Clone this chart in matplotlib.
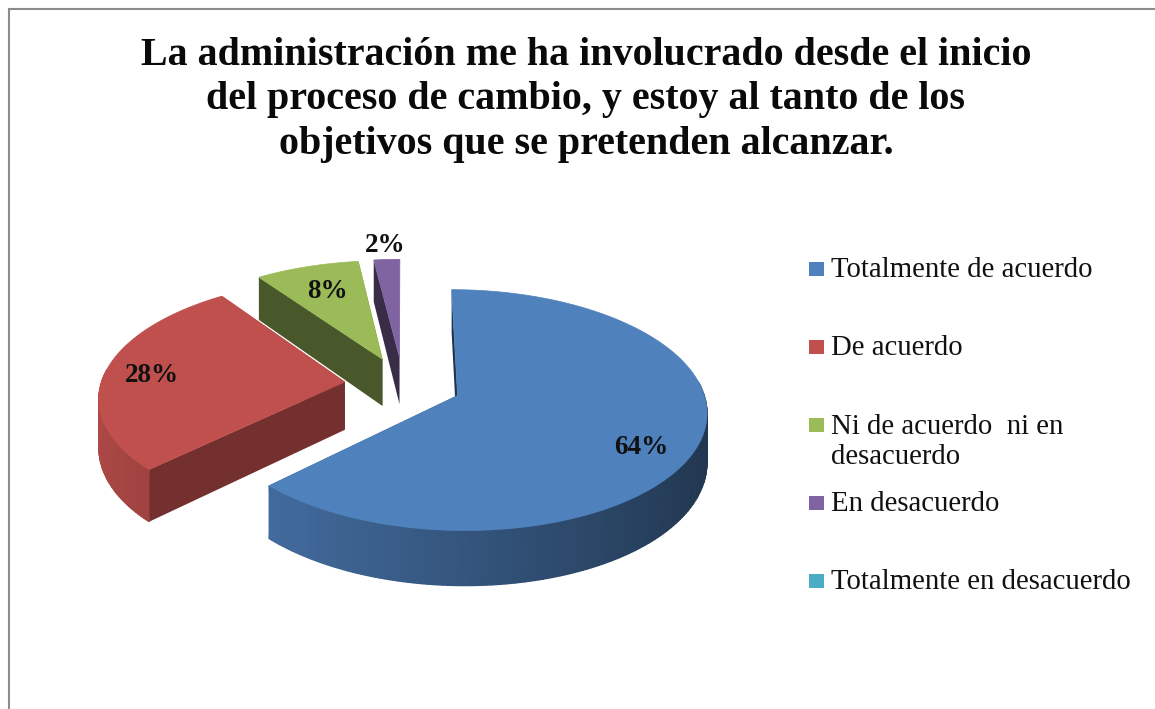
import numpy as np
import matplotlib
matplotlib.use("Agg")
import matplotlib.pyplot as plt
from matplotlib.colors import LinearSegmentedColormap
from matplotlib.patches import Polygon, Rectangle

# ---- data ----
title = ("La administración me ha involucrado desde el inicio\n"
         "del proceso de cambio, y estoy al tanto de los\n"
         "objetivos que se pretenden alcanzar.")
categories = ["Totalmente de acuerdo", "De acuerdo",
              "Ni de acuerdo  ni en\ndesacuerdo", "En desacuerdo",
              "Totalmente en desacuerdo"]
values = [64, 28, 8, 2, 0]
value_labels = ["64%", "28%", "8%", "2%"]
colors = ["#4F81BD", "#C0504D", "#9BBB59", "#8064A2", "#4BACC6"]

# ---- layout / projection of the tilted exploded pie ----
CX, CY = 403.0, 384.5
RX, RY = 244.0, 116.0
PERSP = 0.12
EXPLODE = 0.24
DEPTH = 48.0
SERIF = "Liberation Serif"
wall_shade = [0.40, 0.60, 0.47, 0.44, 0.5]
label_xy = [(641, 447), (152, 376), (327, 291), (385, 245)]
legend_x, legend_y0, legend_step = 809, 269, 78
legend_line_px = 31


def project(u, v, low=False):
    s = 1.0 / (1.0 + PERSP * v)
    x = CX + RX * u * s
    y = CY - RY * v * s + (DEPTH * s if low else 0.0)
    return x, y


def shade(color, f):
    r = np.array(matplotlib.colors.to_rgb(color)) * f
    return tuple(np.clip(r, 0, 1))


fig = plt.figure(figsize=(11.55, 7.09), dpi=100, facecolor="white")
ax = fig.add_axes([0, 0, 1, 1])
ax.set_xlim(0, 1155)
ax.set_ylim(709, 0)
ax.axis("off")

# chart frame (only the left and top edges are inside the picture)
ax.plot([9, 9, 1155], [709, 9, 9], color="#8c8c8c", lw=1.5,
        solid_joinstyle="miter", zorder=1)

total = float(sum(values))
fracs = np.array(values) / total * 2 * np.pi
starts = np.concatenate([[0], np.cumsum(fracs)[:-1]])


def draw_slice(i, z):
    a0, a1 = starts[i], starts[i] + fracs[i]
    mid = (a0 + a1) / 2
    ou, ov = EXPLODE * np.sin(mid), EXPLODE * np.cos(mid)
    th = np.linspace(a0, a1, max(int(np.degrees(a1 - a0)), 4) + 1)
    u = ou + np.sin(th)
    v = ov + np.cos(th)
    # cut walls
    for e in (0, -1):
        pts = [project(ou, ov), project(u[e], v[e]),
               project(u[e], v[e], True), project(ou, ov, True)]
        ax.add_patch(Polygon(pts, closed=True, fc=shade(colors[i], wall_shade[i]),
                             ec="none", zorder=z))
    # rim: only the part that faces the viewer, smoothly shaded
    keep = np.cos(th) < 0.12
    if keep.sum() > 1:
        xt, yt = project(u[keep], v[keep])
        xb, yb = project(u[keep], v[keep], True)
        f = 0.66 - 0.24 * np.sin(th[keep])
        cmap = LinearSegmentedColormap.from_list(
            "rim", [shade(colors[i], 0.3), shade(colors[i], 1.0)])
        ax.pcolormesh(np.vstack([xt, xb]), np.vstack([yt, yb]), np.vstack([f, f]),
                      shading="gouraud", cmap=cmap, vmin=0.3, vmax=1.0,
                      zorder=z + 0.1)
    # top face
    top = [project(ou, ov)] + [project(a, b) for a, b in zip(u, v)]
    ax.add_patch(Polygon(top, closed=True, fc=colors[i], ec=colors[i], lw=0.5,
                         zorder=z + 0.2))


for order, i in enumerate([3, 2, 1, 0]):
    draw_slice(i, 2 + order)

for (x, y), s in zip(label_xy, value_labels):
    ax.text(x, y, s, family=SERIF, weight="bold", fontsize=19.5, color="#111111",
            ha="center", va="center", zorder=10)

ax.text(586, 100, title, family=SERIF, weight="bold", fontsize=28.8,
        color="#0a0a0a", ha="center", va="center", linespacing=1.27,
        multialignment="center", zorder=10)

for k, (cat, col) in enumerate(zip(categories, colors)):
    y = legend_y0 + k * legend_step
    ax.add_patch(Rectangle((legend_x, y - 7), 15, 14, fc=col, ec="none", zorder=10))
    ax.text(831, y + 8 + legend_line_px * cat.count("\n"), cat, family=SERIF,
            fontsize=20.7, color="#111111", ha="left", va="baseline",
            linespacing=1.2, zorder=10)

fig.savefig("out.png", dpi=100, facecolor="white")
